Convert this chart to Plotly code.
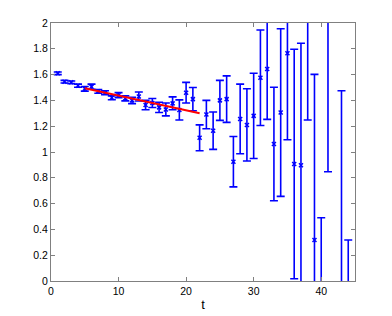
import plotly.graph_objects as go

# data
t_vals = [1, 2, 3, 4, 5, 6, 7, 8, 9, 10, 11, 12, 13, 14, 15, 16, 17, 18, 19, 20, 21, 22,
          23, 24, 25, 26, 27, 28, 29, 30, 31, 32, 33, 34, 35, 36, 37, 38, 39, 40, 41, 43, 44]
y_vals = [1.61, 1.545, 1.54, 1.514, 1.49, 1.506, 1.47, 1.46, 1.42, 1.44, 1.416, 1.40, 1.43,
          1.364, 1.38, 1.346, 1.33, 1.377, 1.326, 1.46, 1.41, 1.11,
          1.29, 1.165, 1.40, 1.41, 0.925, 1.256, 1.21, 1.28, 1.576, 1.643, 1.062, 1.306,
          1.765, 0.907, 0.897, 2.40, 0.318, -0.60, 2.50, -0.40, -1.20]
err_vals = [0.01, 0.01, 0.01, 0.012, 0.018, 0.02, 0.015, 0.015, 0.015, 0.02, 0.02, 0.025, 0.035,
            0.036, 0.035, 0.04, 0.05, 0.05, 0.078, 0.08, 0.09, 0.10,
            0.11, 0.145, 0.155, 0.18, 0.195, 0.27, 0.28, 0.33, 0.37, 0.39, 0.44, 0.65,
            0.67, 0.89, 0.946, 1.152, 1.284, 1.09, 1.653, 1.875, 1.518]

fit_t = [5, 22]
fit_val = [1.494, 1.300]

x_ticks = [0, 10, 20, 30, 40]
y_ticks = [0, 0.2, 0.4, 0.6, 0.8, 1.0, 1.2, 1.4, 1.6, 1.8, 2.0]
y_tick_text = ["0", "0.2", "0.4", "0.6", "0.8", "1", "1.2", "1.4", "1.6", "1.8", "2"]

fig = go.Figure()
fig.add_trace(go.Scatter(
    x=t_vals, y=y_vals, mode="markers",
    marker=dict(symbol="x-thin", size=4, color="#0000ff",
                line=dict(width=1.5, color="#0000ff")),
    error_y=dict(type="data", array=err_vals, visible=True,
                 color="#0000ff", thickness=1.6, width=4),
    showlegend=False,
))
fig.add_trace(go.Scatter(
    x=fit_t, y=fit_val, mode="lines",
    line=dict(color="#ff0000", width=2),
    showlegend=False,
))

axis_common = dict(
    showline=True, linecolor="#808080", linewidth=1, mirror="ticks",
    ticks="inside", ticklen=4, tickcolor="#808080",
    showgrid=False, zeroline=False, automargin=False,
    tickfont=dict(family="Liberation Sans, Arial, sans-serif", size=10.5, color="#000000"),
)

# page body has an 8px default margin, so the figure is sized to fit the remaining window
fig.update_layout(
    width=384, height=308,
    margin=dict(l=43, r=37, t=15, b=35),
    paper_bgcolor="white", plot_bgcolor="white",
    xaxis=dict(range=[0, 45], tickvals=x_ticks, ticktext=[str(v) for v in x_ticks],
               title=dict(text="t", standoff=4,
                          font=dict(family="Liberation Sans, Arial, sans-serif", size=13, color="#000000")),
               **axis_common),
    yaxis=dict(range=[0, 2], tickvals=y_ticks, ticktext=y_tick_text, **axis_common),
)

fig.write_html("out.html")
